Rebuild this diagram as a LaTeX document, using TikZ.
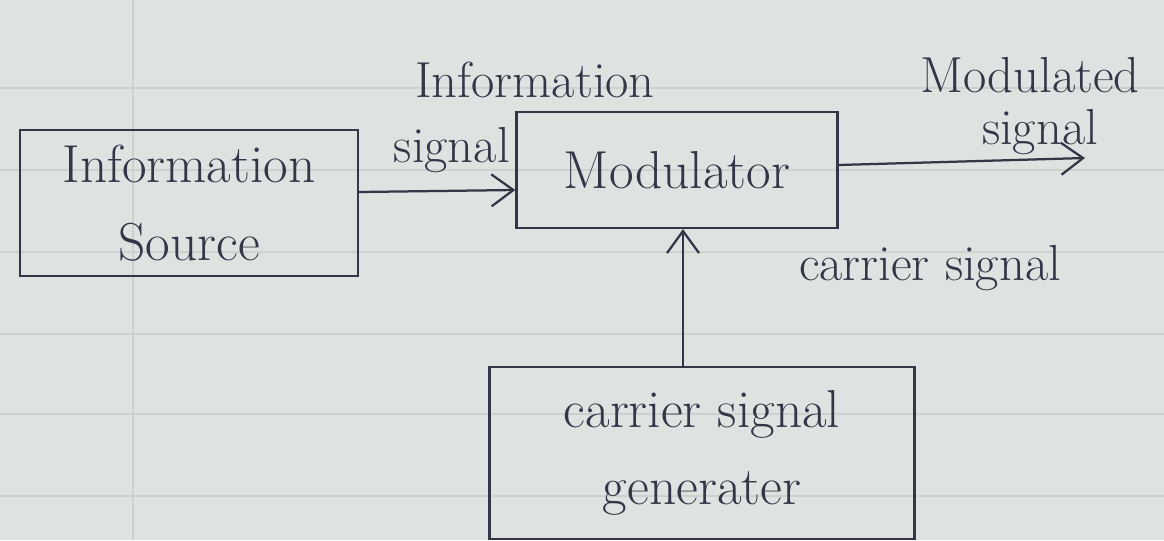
\documentclass[tikz,border=0pt]{standalone}
\usetikzlibrary{arrows.meta}
\definecolor{paper}{RGB}{222,226,224}
\definecolor{rule}{RGB}{204,209,208}
\definecolor{ink}{RGB}{52,54,72}
\tikzset{
  blk/.style={draw=ink, line width=1.6pt, rectangle, align=center, text=ink, inner sep=0pt,
    font=\fontsize{38}{55}\selectfont},
  lbl/.style={text=ink, align=center, inner sep=0pt, font=\fontsize{36}{50}\selectfont},
  arr/.style={draw=ink, line width=1.6pt, -{Straight Barb[length=0.55cm, width=0.8cm, line width=1.6pt]}},
  paperline/.style={draw=rule, line width=1.2pt}
}
\begin{document}
\begin{tikzpicture}[x=0.025cm, y=-0.025cm]
  \fill[paper] (0,0) rectangle (1164,540);
  \useasboundingbox (0,0) rectangle (1164,540);
  % notebook rules
  \foreach \yy in {88,170,252,334,414,496} { \draw[paperline] (0,\yy) -- (1164,\yy); }
  \draw[rule, line width=1.4pt] (133,0) -- (133,540);

  % blocks
  \node[blk, minimum width=8.45cm, minimum height=3.65cm] (src) at (189,203) {Information\\Source};
  \node[blk, minimum width=8.025cm, minimum height=2.9cm] (mod) at (677,170) {Modulator};
  \node[blk, minimum width=10.625cm, minimum height=4.3cm] (gen) at (702,453) {carrier signal\\generater};

  % labels
  \node[lbl] (linfo) at (535,80) {Information};
  \node[lbl, anchor=east] (lsig) at (510,150) {signal};
  \node[lbl] (lmodd) at (1030,75) {Modulated};
  \node[lbl] (lmods) at (1040,132) {signal};
  \node[lbl] (lcar) at (930,268) {carrier signal};

  % connectors
  \coordinate (out) at (1085,158);
  \draw[arr] ([yshift=0.275cm]src.east) -- ([yshift=-0.5cm]mod.west);
  \draw[arr] ([yshift=0.125cm]mod.east) -- (out);
  \draw[arr] ([xshift=-0.475cm]gen.north) -- ([xshift=-0.475cm]gen.north |- mod.south);
\end{tikzpicture}
\end{document}
